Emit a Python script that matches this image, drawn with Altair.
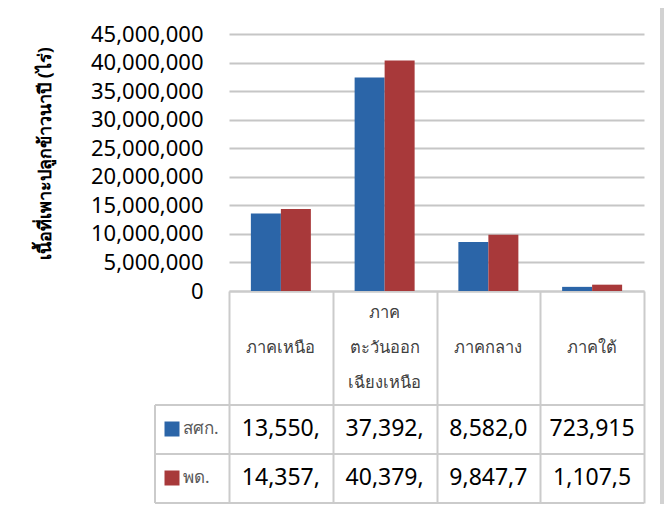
import altair as alt
import pandas as pd

regions = ["ภาคเหนือ", "ภาคตะวันออกเฉียงเหนือ", "ภาคกลาง", "ภาคใต้"]
region_lines = [["ภาคเหนือ"], ["ภาค", "ตะวันออก", "เฉียงเหนือ"], ["ภาคกลาง"], ["ภาคใต้"]]
series = ["สศก.", "พด."]
vals_oae = [13550000, 37392000, 8582000, 723915]
vals_ldd = [14357000, 40379000, 9847700, 1107500]
text_oae = ["13,550,", "37,392,", "8,582,0", "723,915"]
text_ldd = ["14,357,", "40,379,", "9,847,7", "1,107,5"]
colors = ["#2B65A8", "#A8393A"]
y_ticks = [0, 5000000, 10000000, 15000000, 20000000, 25000000, 30000000, 35000000, 40000000, 45000000]
y_title = "เนื้อที่เพาะปลูกข้าวนาปี (ไร่)"

rows = []
for i, r in enumerate(regions):
    rows.append({"region": r, "series": series[0], "value": vals_oae[i], "txt": text_oae[i]})
    rows.append({"region": r, "series": series[1], "value": vals_ldd[i], "txt": text_ldd[i]})
df = pd.DataFrame(rows)
hdr = pd.DataFrame({"region": regions, "lines": region_lines})
leg = pd.DataFrame({"series": series})
one = pd.DataFrame({"a": [0]})

FONT = "Noto Sans"
GRID = "#c6c6c6"
LINE = "#cbcbcb"

xenc = alt.X("region:N", sort=regions,
             scale=alt.Scale(domain=regions, paddingInner=0, paddingOuter=0),
             axis=alt.Axis(title=None, labels=False, domain=True, domainColor=LINE,
                           domainWidth=2, ticks=True, tickBand="extent", tickSize=212,
                           tickColor=LINE, tickWidth=2, grid=False))

bars = alt.Chart(df).mark_bar().encode(
    x=xenc,
    xOffset=alt.XOffset("series:N", sort=series,
                        scale=alt.Scale(domain=series, paddingOuter=0.729, paddingInner=0)),
    y=alt.Y("value:Q", scale=alt.Scale(domain=[0, 45000000], nice=False),
            axis=alt.Axis(values=y_ticks, format=",d", title=y_title, grid=True,
                          gridColor=GRID, gridWidth=2, domain=False, ticks=False,
                          labelFontSize=22, labelFont=FONT, labelColor="#000000",
                          labelPadding=26, titleFont=FONT, titleFontSize=18,
                          titleFontWeight="bold", titleColor="#000000", titleAngle=270,
                          titleX=-184, titleY=119, titleAlign="center",
                          titleBaseline="middle")),
    color=alt.Color("series:N", scale=alt.Scale(domain=series, range=colors), legend=None),
)

hdr_single = alt.Chart(hdr).transform_filter("length(datum.lines) == 1").mark_text(
    baseline="middle", align="center", fontSize=16.5, font=FONT, color="#404040"
).encode(x=alt.X("region:N", sort=regions), y=alt.value(314), text="lines")

hdr_multi = alt.Chart(hdr).transform_filter("length(datum.lines) > 1").mark_text(
    baseline="middle", align="center", fontSize=16.5, lineHeight=35, font=FONT, color="#404040"
).encode(x=alt.X("region:N", sort=regions), y=alt.value(279), text="lines")

yrow = alt.Y("series:N", scale=alt.Scale(domain=series, range=[395, 444], padding=0), axis=None)

values = alt.Chart(df).mark_text(baseline="middle", align="center", fontSize=23,
                                 font=FONT, color="#000000").encode(
    x=alt.X("region:N", sort=regions), y=yrow, text="txt:N"
)

legsq = alt.Chart(leg).mark_square(size=225, opacity=1).encode(
    x=alt.value(-57), y=yrow,
    color=alt.Color("series:N", scale=alt.Scale(domain=series, range=colors), legend=None),
)
legtx = alt.Chart(leg).mark_text(baseline="middle", align="left", fontSize=17,
                                 font=FONT, color="#595959").encode(
    x=alt.value(-46), y=yrow, text="series:N"
)

def hrule(yv):
    return alt.Chart(one).mark_rule(color=LINE, strokeWidth=2).encode(
        x=alt.value(-74), x2=alt.value(415), y=alt.value(yv))

rules = [hrule(371), hrule(420), hrule(469)]
vleft = alt.Chart(one).mark_rule(color=LINE, strokeWidth=2).encode(
    x=alt.value(-74), y=alt.value(371), y2=alt.value(469))
shadow = alt.Chart(one).mark_rule(color="#d2d2d2", strokeWidth=4).encode(
    x=alt.value(433), y=alt.value(-26), y2=alt.value(470))

chart = alt.layer(bars, hdr_single, hdr_multi, values, legsq, legtx, *rules, vleft, shadow
).resolve_scale(y="independent").properties(
    width=415, height=257,
    padding={"left": 221, "top": 26, "right": 20, "bottom": 213},
    autosize=alt.AutoSizeParams(type="none"),
).configure_view(stroke=None)

chart.save("out.html", embed_options={"renderer": "svg", "actions": False})
